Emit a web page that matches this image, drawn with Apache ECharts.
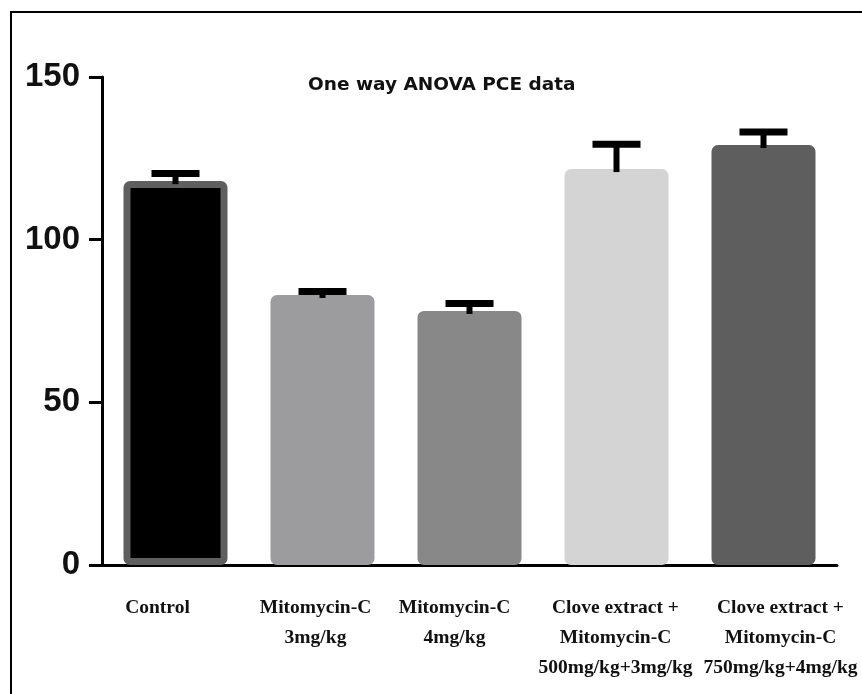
<!DOCTYPE html>
<html lang="en">
<head>
    <meta charset="UTF-8">
    <title>One way ANOVA PCE data</title>
    <script type="text/javascript" src="https://cdn.jsdelivr.net/npm/echarts@6/dist/echarts.min.js"></script>
    <style>
        html, body {
            margin: 0;
            padding: 0;
            background: #fff;
        }

        #container {
            width: 862px;
            height: 694px;
        }
    </style>
</head>
<body>
<div id="container"></div>
</body>
<script>
    const categories = [
        'Control',
        'Mitomycin-C\n3mg/kg',
        'Mitomycin-C\n4mg/kg',
        'Clove extract +\nMitomycin-C\n500mg/kg+3mg/kg',
        'Clove extract +\nMitomycin-C\n750mg/kg+4mg/kg'
    ];
    const means = [118, 83, 78.1, 121.7, 129.1];
    const upperErr = [120.3, 84.1, 80.4, 129.3, 133.1];
    const barColors = ['#000000', '#9c9c9e', '#888888', '#d4d4d4', '#5e5e5e'];
    const barBorders = ['#5f5f5f', '#9c9c9e', '#888888', '#d4d4d4', '#5e5e5e'];
    const yTicks = [0, 50, 100, 150];

    // horizontal nudge of each x label (px), the source labels are not centred on the ticks
    const labelShift = [-18, -7, -15, -1, 17];

    const container = document.getElementById('container');
    const myChart = echarts.init(container);

    let option = {
        backgroundColor: '#fff',
        animation: false,
        title: {
            text: 'One way ANOVA PCE data',
            left: 308,
            top: 76,
            padding: 0,
            textStyle: {
                fontFamily: 'DejaVu Sans',
                fontWeight: 'bold',
                fontSize: 18.5,
                color: '#111'
            }
        },
        graphic: [{
            type: 'rect',
            shape: {x: 11, y: 12, width: 900, height: 800},
            style: {fill: 'none', stroke: '#000', lineWidth: 2},
            silent: true
        }],
        grid: {
            left: 102,
            right: 25,
            top: 77,
            bottom: 129
        },
        xAxis: {
            type: 'category',
            data: categories.map((c, i) => ({
                value: c,
                textStyle: {
                    padding: labelShift[i] > 0 ? [0, 0, 0, 2 * labelShift[i]] : [0, -2 * labelShift[i], 0, 0]
                }
            })),
            axisLine: {lineStyle: {color: '#000', width: 3}},
            axisTick: {alignWithLabel: true, length: 13, lineStyle: {color: '#000', width: 3}},
            axisLabel: {
                interval: 0,
                margin: 28,
                lineHeight: 30,
                fontFamily: 'Liberation Serif',
                fontWeight: 'bold',
                fontSize: 19.5,
                color: '#111'
            }
        },
        yAxis: {
            type: 'value',
            min: yTicks[0],
            max: yTicks[yTicks.length - 1],
            interval: 50,
            splitLine: {show: false},
            axisLine: {show: true, lineStyle: {color: '#000', width: 3}},
            axisTick: {show: true, length: 13, lineStyle: {color: '#000', width: 3}},
            axisLabel: {
                margin: 22,
                fontFamily: 'Liberation Sans',
                fontWeight: 'bold',
                fontSize: 33,
                color: '#111'
            }
        },
        series: [{
            type: 'bar',
            barWidth: 104,
            data: means.map((v, i) => ({
                value: v,
                itemStyle: {
                    color: barColors[i],
                    borderColor: barBorders[i],
                    borderWidth: 7,
                    borderRadius: 3
                }
            }))
        }, {
            type: 'custom',
            z: 5,
            data: upperErr.map((v, i) => [i, means[i], v]),
            encode: {x: 0, y: [1, 2]},
            renderItem: function (params, api) {
                const base = api.coord([api.value(0), api.value(1)]);
                const top = api.coord([api.value(0), api.value(2)]);
                const half = 24;
                return {
                    type: 'group',
                    children: [{
                        type: 'line',
                        shape: {x1: base[0], y1: base[1] + 3, x2: top[0], y2: top[1]},
                        style: {stroke: '#000', lineWidth: 6}
                    }, {
                        type: 'line',
                        shape: {x1: top[0] - half, y1: top[1], x2: top[0] + half, y2: top[1]},
                        style: {stroke: '#000', lineWidth: 7}
                    }]
                };
            }
        }]
    };
    myChart.setOption(option);

    window.onresize = myChart.resize;
</script>
</html>
